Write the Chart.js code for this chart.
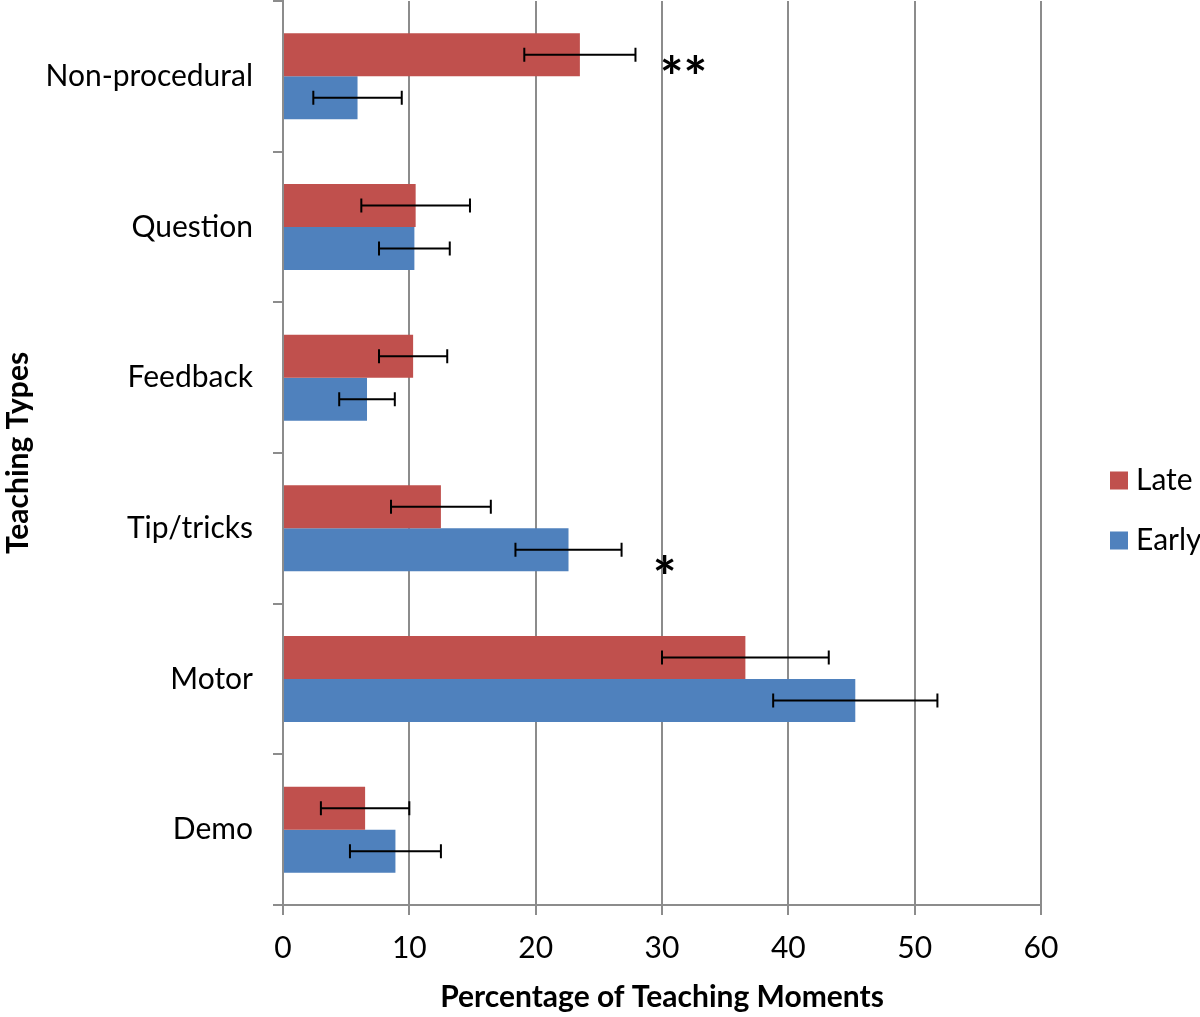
<!DOCTYPE html>
<html>
<head>
<meta charset="utf-8">
<script src="https://cdn.jsdelivr.net/npm/chart.js@4.4.1/dist/chart.umd.min.js"></script>
<style>
  html, body { margin: 0; padding: 0; background: #ffffff; }
  #wrap { width: 1200px; height: 1017px; position: relative; }
</style>
</head>
<body>
<div id="wrap"><canvas id="c" width="1200" height="1017"></canvas></div>
<script>
// ---- data ----
const categories = ['Non-procedural', 'Question', 'Feedback', 'Tip/tricks', 'Motor', 'Demo'];
const lateValues  = [23.5, 10.5, 10.3, 12.5, 36.6, 6.5];
const lateErrors  = [4.4, 4.3, 2.7, 3.95, 6.6, 3.5];
const earlyValues = [5.9, 10.4, 6.65, 22.6, 45.3, 8.9];
const earlyErrors = [3.5, 2.8, 2.2, 4.2, 6.5, 3.6];
const xTicks = [0, 10, 20, 30, 40, 50, 60];
const sigMarks = ['**', '*'];
const sigCategory = ['Non-procedural', 'Tip/tricks'];
const sigValue = [31.7, 30.2];

const FONT = 'Lato, "Open Sans", sans-serif';
const GRID = '#8c8c8c';
const RED = '#C0504D';
const BLUE = '#4F81BD';

const errorBars = {
  id: 'errorBars',
  afterDatasetsDraw(chart) {
    const ctx = chart.ctx;
    const xs = chart.scales.x;
    ctx.save();
    ctx.strokeStyle = '#000';
    ctx.lineWidth = 2;
    chart.data.datasets.forEach((ds, di) => {
      const meta = chart.getDatasetMeta(di);
      meta.data.forEach((el, i) => {
        const v = ds.data[i], e = ds.errors[i];
        const x1 = xs.getPixelForValue(v - e), x2 = xs.getPixelForValue(v + e);
        const y = el.y;
        ctx.beginPath();
        ctx.moveTo(x1, y); ctx.lineTo(x2, y);
        ctx.moveTo(x1, y - 7); ctx.lineTo(x1, y + 7);
        ctx.moveTo(x2, y - 7); ctx.lineTo(x2, y + 7);
        ctx.stroke();
      });
    });
    ctx.restore();
  }
};

const sigPlugin = {
  id: 'sigPlugin',
  afterDatasetsDraw(chart, args, opts) {
    const ctx = chart.ctx;
    const xs = chart.scales.x, ys = chart.scales.y;
    ctx.save();
    ctx.fillStyle = '#000';
    ctx.font = 'bold 56px ' + FONT;
    ctx.textAlign = 'center';
    ctx.textBaseline = 'middle';
    sigMarks.forEach((m, i) => {
      const x = xs.getPixelForValue(sigValue[i]);
      const y = ys.getPixelForValue(categories.indexOf(sigCategory[i])) + opts.dy[i];
      ctx.fillText(m, x, y);
    });
    ctx.restore();
  }
};

const legendPlugin = {
  id: 'customLegend',
  afterDraw(chart) {
    const ctx = chart.ctx;
    const x0 = chart.chartArea.right + 69;
    const yc = (chart.chartArea.top + chart.chartArea.bottom) / 2;
    ctx.save();
    ctx.font = '30px ' + FONT;
    ctx.textBaseline = 'middle';
    ctx.textAlign = 'left';
    chart.data.datasets.forEach((ds, i) => {
      const y = yc + 27.5 + i * 60;
      ctx.fillStyle = ds.backgroundColor;
      ctx.fillRect(x0, y - 9, 18, 18);
      ctx.fillStyle = '#000';
      ctx.fillText(ds.label, x0 + 26, y);
    });
    ctx.restore();
  }
};

new Chart(document.getElementById('c'), {
  type: 'bar',
  data: {
    labels: categories,
    datasets: [
      { label: 'Late', data: lateValues, errors: lateErrors, backgroundColor: RED, borderWidth: 0 },
      { label: 'Early', data: earlyValues, errors: earlyErrors, backgroundColor: BLUE, borderWidth: 0 }
    ]
  },
  options: {
    indexAxis: 'y',
    responsive: false,
    animation: false,
    devicePixelRatio: 1,
    categoryPercentage: 0.571,
    barPercentage: 1.0,
    layout: { padding: { left: 0, top: 1, right: 159, bottom: 0 } },
    plugins: {
      legend: { display: false },
      tooltip: { enabled: false },
      sigPlugin: { dy: [3, 51] }
    },
    scales: {
      x: {
        min: 0, max: 60,
        afterBuildTicks(scale) { scale.ticks = xTicks.map(v => ({ value: v })); },
        afterFit(scale) { scale.height = 112; scale.paddingLeft = 0; scale.paddingRight = 0; },
        grid: { color: GRID, lineWidth: 2, tickLength: 10, drawTicks: true },
        border: { color: GRID, width: 2 },
        ticks: { color: '#000', font: { family: FONT, size: 30 }, padding: 15, maxRotation: 0 },
        title: { display: true, text: 'Percentage of Teaching Moments', color: '#000',
                 font: { family: FONT, size: 30, weight: 'bold' }, padding: { top: 0, bottom: 2 } }
      },
      y: {
        afterFit(scale) { scale.width = 283; scale.paddingTop = 0; scale.paddingBottom = 0; },
        grid: { offset: true, drawOnChartArea: false, color: GRID, lineWidth: 2, tickLength: 10 },
        border: { color: GRID, width: 2 },
        ticks: { color: '#000', font: { family: FONT, size: 30 }, padding: 20 },
        title: { display: true, text: 'Teaching Types', color: '#000',
                 font: { family: FONT, size: 30, weight: 'bold' }, padding: { top: 0, bottom: 0 } }
      }
    }
  },
  plugins: [errorBars, sigPlugin, legendPlugin]
});
</script>
</body>
</html>
